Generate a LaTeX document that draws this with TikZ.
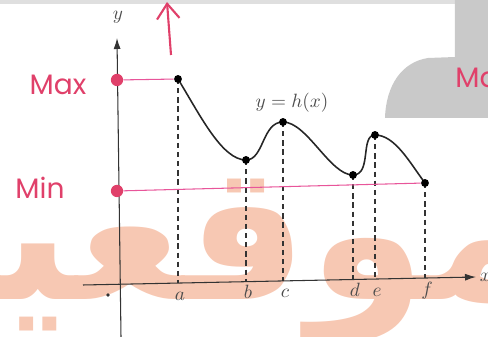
\documentclass[tikz,border=0pt]{standalone}
\usepackage{fontspec}
\newfontfamily\arabicfont[Script=Arabic]{DejaVu Sans}
\newfontfamily\handfont{Poppins}
\TeXXeTstate=1
\usetikzlibrary{arrows.meta,positioning,calc}
\definecolor{maxred}{HTML}{E0406A}
\definecolor{maxline}{HTML}{E8559A}
\definecolor{wmcol}{HTML}{F7C8B3}
\definecolor{blob}{HTML}{C9C9C9}
\tikzset{
  pt/.style={circle, fill=black, inner sep=0pt, minimum size=4.5pt},
  rdot/.style={circle, fill=maxred, inner sep=0pt, minimum size=7pt},
  lbl/.style={font=\fontsize{11}{13}\selectfont, text=black!70, inner sep=1pt},
  hand/.style={font=\handfont\fontsize{16}{18}\selectfont, text=maxred, inner sep=0pt},
  drop/.style={dashed, dash pattern=on 3pt off 2.2pt, semithick, black!80},
  ax/.style={-{Latex[length=2.2mm,width=1.4mm]}, semithick, black!80},
  crv/.style={line width=0.9pt, black!85},
  rline/.style={maxline, semithick},
  redarr/.style={-{Straight Barb[length=3mm,width=4.5mm]}, line width=1.2pt, maxred},
  wmark/.style={font=\arabicfont\bfseries\fontsize{108}{108}\selectfont, text=wmcol, inner sep=0pt},
}
\begin{document}
\begin{tikzpicture}[x=0.02cm, y=-0.02cm]
\useasboundingbox (0,0) rectangle (488,337);
\clip (0,0) rectangle (488,337);

% scan leftovers
\node[wmark, anchor=base east] (wm) at (545,300) {\beginR موقعيـ\endR};
\fill[gray!25] (0,0) rectangle (488,4);
\fill[blob] (455,-1) -- (455,57) -- (428,58) .. controls (402,62) and (386,85) .. (385,118) -- (489,118) -- (489,-1) -- cycle;

% axes
\coordinate (xl) at (83,285);
\coordinate (xr) at (476,277);
\coordinate (yb) at (121,337);
\coordinate (yt) at (117,38);
\draw[ax] (xl) -- (xr);
\draw[ax] (yb) -- (yt);
\node[lbl, right=1pt of xr] (xlab) {$x$};
\node[lbl] (ylab) at (118,17) {$y$};
\node[circle, fill=black!80, inner sep=0pt, minimum size=2pt] (org) at (108,295) {};

% points of the graph
\foreach \n/\px/\py in {a/178/79,b/246/160,c/283/122,d/353/175,e/375/135,f/425/183}{
  \coordinate (p\n) at (\px,\py);
  \coordinate (q\n) at (\px,{285-(\px-83)*8/393});
  \draw[drop] (p\n) -- (q\n);
  \node[lbl, anchor=base] (l\n) at ({\px+2},{302-(\px-83)*8/393}) {$\n$};
}

\draw[crv] (pa) .. controls (200,115) and (222,160) .. (pb)
  .. controls (264,160) and (262,122) .. (pc)
  .. controls (307,122) and (330,175) .. (pd)
  .. controls (372,175) and (360,135) .. (pe)
  .. controls (395,135) and (410,163) .. (pf);
\foreach \n in {a,b,c,d,e,f}
  \node[pt] (d\n) at (p\n) {};
\node[lbl] (fn) at (292,103) {$y=h(x)$};

% handwritten marks
\node[rdot] (rmax) at (117,80) {};
\node[rdot] (rmin) at (117,191) {};
\draw[rline] (rmax) -- (da);
\draw[rline] (rmin) -- (df);
\node[hand] (tmax) at (58,85) {Max};
\node[hand] (tmin) at (40,188) {Min};
\node[hand, anchor=west] (tmax2) at (455,78) {Max};
\coordinate (arrb) at (171,55);
\coordinate (arrt) at (167,2);
\draw[redarr] (arrb) -- (arrt);

\end{tikzpicture}
\end{document}
